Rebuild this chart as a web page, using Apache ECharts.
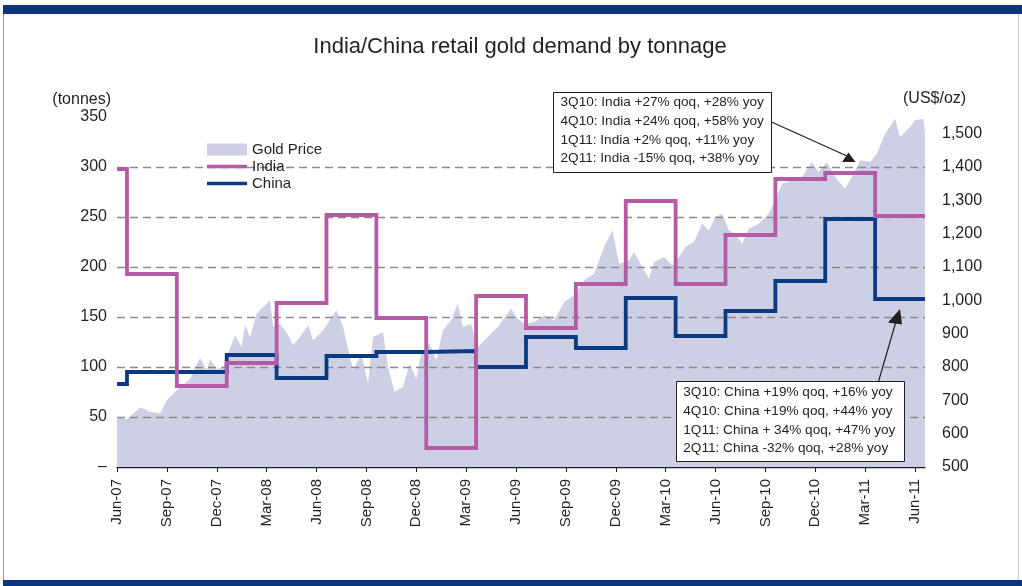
<!DOCTYPE html>
<html>
<head>
<meta charset="utf-8">
<script src="https://cdn.jsdelivr.net/npm/echarts@6/dist/echarts.min.js"></script>
<style>
html,body{margin:0;padding:0;background:#fff;}
#chart{width:1022px;height:586px;}
</style>
</head>
<body>
<div id="chart"></div>
<script>
// ---- data ----
const chartTitle = 'India/China retail gold demand by tonnage';
const leftAxisName = '(tonnes)';
const rightAxisName = '(US$/oz)';
// x is months since Jun-07
const tickMonths = [0,3,6,9,12,15,18,21,24,27,30,33,36,39,42,45,48];
const tickLabels = ['Jun-07','Sep-07','Dec-07','Mar-08','Jun-08','Sep-08','Dec-08','Mar-09','Jun-09','Sep-09','Dec-09','Mar-10','Jun-10','Sep-10','Dec-10','Mar-11','Jun-11'];
const quarters = ['2Q07','3Q07','4Q07','1Q08','2Q08','3Q08','4Q08','1Q09','2Q09','3Q09','4Q09','1Q10','2Q10','3Q10','4Q10','1Q11','2Q11'];
const quarterStartMonth = [0,0.6,3.6,6.6,9.6,12.6,15.6,18.6,21.6,24.6,27.6,30.6,33.6,36.6,39.6,42.6,45.6];
const endMonth = 48.6;
const indiaTonnes = [298,193,81,104,164,252,149,19,171,139,183,266,183,232,288,294,251];
const chinaTonnes = [83,95,95,112,89,111,115,116,100,130,119,169,131,156,186,248,168];
const goldMonth = [0,0.6,1.4,2.0,2.6,3.0,3.6,4.4,5.0,5.4,5.6,6.0,6.4,6.8,7.1,7.5,7.7,8.0,8.4,8.8,9.2,9.4,9.8,10.3,10.6,11.0,11.5,11.8,12.4,13.2,13.6,14.2,14.7,15.1,15.4,16.0,16.3,16.7,17.2,17.6,18.0,18.3,18.8,19.2,19.6,20.1,20.5,20.8,21.3,21.7,22.3,22.9,23.7,24.1,24.5,25.1,25.7,26.3,26.9,27.5,28.1,28.7,29.3,29.8,30.2,30.8,31.1,31.7,32.0,32.3,32.9,33.4,33.8,34.2,34.7,35.2,35.6,36.0,36.4,36.8,37.2,37.6,38.0,38.6,39.2,39.6,40.0,40.6,41.2,41.8,42.2,42.7,43.2,43.8,44.2,44.7,45.3,45.7,46.2,46.8,47.1,47.7,48.0,48.5,48.6];
const goldPrice = [651,643,679,665,661,700,730,765,828,790,823,793,800,856,895,860,925,890,960,980,1000,920,930,895,865,890,925,880,910,970,920,790,840,750,890,905,800,725,740,810,765,840,870,820,910,940,990,920,930,860,890,920,975,945,930,935,955,940,995,1015,1060,1080,1160,1210,1110,1120,1145,1090,1065,1115,1130,1105,1130,1160,1175,1230,1210,1250,1260,1210,1200,1170,1215,1230,1260,1300,1350,1360,1370,1415,1385,1415,1370,1335,1370,1420,1415,1440,1500,1545,1490,1520,1540,1545,1505];
const indiaNotes = ['3Q10: India +27% qoq, +28% yoy','4Q10: India +24% qoq, +58% yoy','1Q11: India +2% qoq, +11% yoy','2Q11: India -15% qoq, +38% yoy'];
const chinaNotes = ['3Q10: China +19% qoq, +16% yoy','4Q10: China +19% qoq, +44% yoy','1Q11: China + 34% qoq, +47% yoy','2Q11: China -32% qoq, +28% yoy'];

// ---- build ----
function stepData(vals){
  const d = quarterStartMonth.map((m,i)=>[m, vals[i]]);
  d.push([endMonth, vals[vals.length-1]]);
  return d;
}
const goldData = goldMonth.map((m,i)=>[m, goldPrice[i]]);
const FONT = '"Liberation Sans", Arial, Helvetica, sans-serif';
const TXT = '#231f20';
const lineIcon = 'path://M0,0h0.01v0.01h-0.01z M0,4.2h40v3.6h-40z M39.99,11.99h0.01v0.01h-0.01z';

const chart = echarts.init(document.getElementById('chart'), null, {renderer:'canvas'});
chart.setOption({
  animation:false,
  backgroundColor:'#fff',
  textStyle:{fontFamily:FONT},
  grid:{left:117, right:97, top:117, bottom:119, containLabel:false, outerBoundsMode:'none'},
  legend:{
    orient:'vertical', left:207, top:142, padding:0,
    itemWidth:40, itemHeight:12, itemGap:2,
    textStyle:{fontSize:15, color:TXT, fontFamily:FONT},
    data:[{name:'Gold Price', icon:'rect'},{name:'India', icon:lineIcon},{name:'China', icon:lineIcon}]
  },
  xAxis:{
    type:'value', min:0, max:endMonth,
    axisLine:{show:true, lineStyle:{color:'#231f20', width:1.3}},
    axisTick:{show:true, customValues:tickMonths, length:5, lineStyle:{color:'#231f20', width:1}},
    axisLabel:{customValues:tickMonths, rotate:90, margin:12, fontSize:15, color:TXT, fontFamily:FONT,
      formatter:v=>tickLabels[Math.round(v/3)]},
    splitLine:{show:false}
  },
  yAxis:[{
    type:'value', min:0, max:350, interval:50, position:'left', z:3,
    axisLine:{show:false}, axisTick:{show:false},
    axisLabel:{margin:10, fontSize:16, color:TXT, fontFamily:FONT, formatter:v=> v===0 ? '–' : String(v)},
    splitLine:{show:true, showMinLine:false, showMaxLine:false, lineStyle:{color:'#8a8a8a', width:1.4, type:[8,5]}}
  },{
    type:'value', min:500, max:1550, interval:100, position:'right', z:3,
    axisLine:{show:false}, axisTick:{show:false},
    axisLabel:{margin:17, fontSize:16, color:TXT, fontFamily:FONT, showMaxLabel:false,
      formatter:v=> v.toLocaleString('en-US')},
    splitLine:{show:false}
  }],
  series:[{
    name:'Gold Price', type:'line', yAxisIndex:1, data:goldData, z:1,
    showSymbol:false, symbol:'none', smooth:false,
    itemStyle:{color:'#cdd0e4'},
    lineStyle:{width:0, color:'#cdd0e4'},
    areaStyle:{color:'#cdd0e4', opacity:1, origin:'start'}
  },{
    name:'China', type:'line', yAxisIndex:0, data:stepData(chinaTonnes), z:6, step:'end',
    showSymbol:false, symbol:'none',
    itemStyle:{color:'#0b3a82'},
    lineStyle:{width:3.8, color:'#0b3a82', join:'miter', cap:'butt'}
  },{
    name:'India', type:'line', yAxisIndex:0, data:stepData(indiaTonnes), z:7, step:'end',
    showSymbol:false, symbol:'none',
    itemStyle:{color:'#b55aa5'},
    lineStyle:{width:3.8, color:'#b55aa5', join:'miter', cap:'butt'}
  }],
  graphic:[
    {type:'rect', shape:{x:3, y:5, width:1019, height:9}, style:{fill:'#0b367c'}, silent:true},
    {type:'rect', shape:{x:3, y:580, width:1019, height:6}, style:{fill:'#0b367c'}, silent:true},
    {type:'line', shape:{x1:3.5, y1:14, x2:3.5, y2:580}, style:{stroke:'#9a9a9a', lineWidth:1}, silent:true},
    {type:'line', shape:{x1:1018.5, y1:14, x2:1018.5, y2:580}, style:{stroke:'#c8c8c8', lineWidth:1}, silent:true},
    {type:'text', x:520, y:47, style:{text:chartTitle, fill:TXT, font:'22px '+FONT, textAlign:'center', textVerticalAlign:'middle'}, silent:true},
    {type:'text', x:111, y:100, style:{text:leftAxisName, fill:TXT, font:'16px '+FONT, textAlign:'right', textVerticalAlign:'middle'}, silent:true},
    {type:'text', x:903, y:99, style:{text:rightAxisName, fill:TXT, font:'16px '+FONT, textAlign:'left', textVerticalAlign:'middle'}, silent:true},
    // India note
    {type:'rect', z:20, shape:{x:553.5, y:92.5, width:218, height:80}, style:{fill:'#fff', stroke:'#231f20', lineWidth:1}, silent:true},
    {type:'text', z:21, x:560.5, y:93, style:{text:indiaNotes.join('\n'), fill:TXT, font:'13.6px '+FONT, lineHeight:18.7, textAlign:'left', textVerticalAlign:'top'}, silent:true},
    {type:'line', z:20, shape:{x1:771.5, y1:122, x2:847, y2:156}, style:{stroke:'#231f20', lineWidth:1.2}, silent:true},
    {type:'polygon', z:20, shape:{points:[[842,162],[855.5,162],[848.5,152.5]]}, style:{fill:'#231f20'}, silent:true},
    // China note
    {type:'rect', z:20, shape:{x:676.5, y:381.5, width:228, height:80}, style:{fill:'#fff', stroke:'#231f20', lineWidth:1}, silent:true},
    {type:'text', z:21, x:683.3, y:383.4, style:{text:chinaNotes.join('\n'), fill:TXT, font:'13.6px '+FONT, lineHeight:18.6, textAlign:'left', textVerticalAlign:'top'}, silent:true},
    {type:'line', z:20, shape:{x1:878.5, y1:381.5, x2:897, y2:318}, style:{stroke:'#231f20', lineWidth:1.2}, silent:true},
    {type:'polygon', z:20, shape:{points:[[888,322.5],[902,324.5],[900,309]]}, style:{fill:'#231f20'}, silent:true}
  ]
});
</script>
</body>
</html>
